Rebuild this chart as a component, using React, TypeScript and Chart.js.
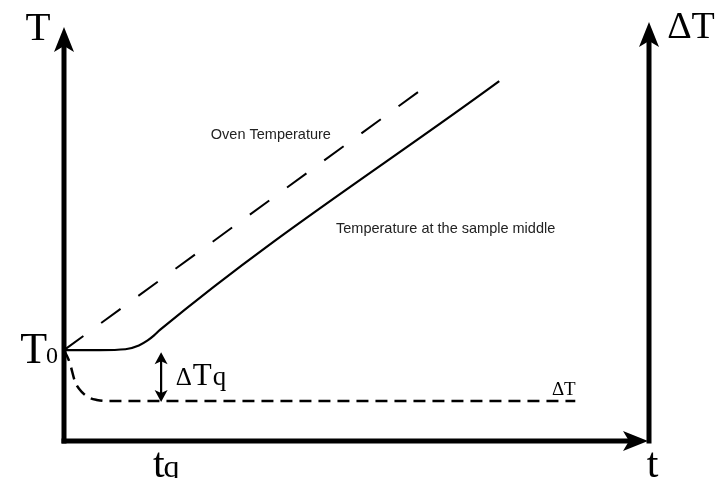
import React, { useEffect, useRef } from "react";
import { Chart, registerables } from "chart.js";

Chart.register(...registerables);

// Scales: time 0..100 (left axis -> right axis), temperature 0..100 (bottom axis -> top)
const X_MIN = 0;
const X_MAX = 100;
const Y_MIN = 0;
const Y_MAX = 100;

// Oven temperature (dashed straight line)
const ovenTime = [0, 62.6];
const ovenTemp = [21.7, 85.4];

// Temperature at the sample middle (solid)
const sampleTime = [0, 6.1, 10.5, 12.8, 14.3, 15.4, 16.4, 74.4];
const sampleTemp = [21.7, 21.7, 21.9, 22.8, 24.0, 25.2, 26.5, 85.9];

// Delta T (dashed, lower)
const deltaTime = [0, 0.5, 1.0, 1.9, 3.2, 4.4, 5.6, 7.0, 87.4];
const deltaTemp = [21.7, 20.3, 18.6, 14.1, 11.5, 10.3, 9.8, 9.55, 9.55];

// Markers
const T0 = 21.7;
const tq = 16.6;
const deltaTqRange = [21.2, 9.3];

const toPoints = (xs: number[], ys: number[]) => xs.map((x, i) => ({ x, y: ys[i] }));

const SERIF = "'Liberation Serif', 'DejaVu Serif', serif";
const SANS = "'Liberation Sans', Arial, sans-serif";

function arrowHead(
  ctx: CanvasRenderingContext2D,
  tx: number,
  ty: number,
  dx: number,
  dy: number,
  len: number,
  half: number,
  notch: number
) {
  const px = -dy;
  const py = dx;
  const bx = tx - dx * len;
  const by = ty - dy * len;
  ctx.beginPath();
  ctx.moveTo(tx, ty);
  ctx.lineTo(bx + px * half, by + py * half);
  ctx.lineTo(tx - dx * (len - notch), ty - dy * (len - notch));
  ctx.lineTo(bx - px * half, by - py * half);
  ctx.closePath();
  ctx.fill();
}

const decorPlugin = {
  id: "decor",
  afterDatasetsDraw(chart: any) {
    const ctx: CanvasRenderingContext2D = chart.ctx;
    const xs = chart.scales.x;
    const ys = chart.scales.y;
    const X = (v: number) => xs.getPixelForValue(v);
    const Y = (v: number) => ys.getPixelForValue(v);
    ctx.save();
    ctx.fillStyle = "#000";
    ctx.strokeStyle = "#000";
    ctx.lineCap = "butt";

    // Axes
    const x0 = X(X_MIN);
    const x1 = X(X_MAX);
    const y0 = Y(Y_MIN);
    ctx.lineWidth = 5;
    const leftTip = Y(98.8);
    ctx.beginPath();
    ctx.moveTo(x0, y0 + 2.5);
    ctx.lineTo(x0, leftTip + 12);
    ctx.stroke();
    arrowHead(ctx, x0, leftTip, 0, -1, 25, 10, 6);
    const rightTip = Y(Y_MAX);
    ctx.beginPath();
    ctx.moveTo(x1, y0 + 2.5);
    ctx.lineTo(x1, rightTip + 12);
    ctx.stroke();
    arrowHead(ctx, x1, rightTip, 0, -1, 25, 10, 6);
    ctx.beginPath();
    ctx.moveTo(x0 - 2.5, y0);
    ctx.lineTo(x1 - 12, y0);
    ctx.stroke();
    arrowHead(ctx, x1 - 1, y0, 1, 0, 25, 10, 6);

    // Delta Tq double arrow
    const ax = X(tq);
    const aTop = Y(deltaTqRange[0]);
    const aBot = Y(deltaTqRange[1]);
    ctx.lineWidth = 2.2;
    ctx.beginPath();
    ctx.moveTo(ax, aTop + 6);
    ctx.lineTo(ax, aBot - 6);
    ctx.stroke();
    arrowHead(ctx, ax, aTop, 0, -1, 12, 6.5, 3);
    arrowHead(ctx, ax, aBot, 0, 1, 12, 6.5, 3);

    // Texts
    ctx.textBaseline = "alphabetic";
    ctx.textAlign = "left";
    const put = (s: string, px: number, py: number, font: string) => {
      ctx.font = font;
      ctx.fillText(s, px, py);
      return px + ctx.measureText(s).width;
    };

    put("T", X(-6.6), Y(95.7), `41px ${SERIF}`);
    put("ΔT", X(103.1), Y(96.2), `38px ${SERIF}`);
    let nx = put("T", X(-7.5), Y(T0 - 3.1), `44px ${SERIF}`);
    put("0", nx - 1, Y(T0 - 3.1), `24px ${SERIF}`);
    nx = put("Δ", X(19.1), Y(13.4), `25px ${SERIF}`);
    nx = put("T", nx + 1, Y(13.4), `31px ${SERIF}`);
    put("q", nx + 1, Y(13.4), `27px ${SERIF}`);
    nx = put("t", X(15.2), Y(-8.6), `42px ${SERIF}`);
    put("q", nx - 1, Y(-8.6), `32px ${SERIF}`);
    put("t", X(99.6), Y(-8.6), `42px ${SERIF}`);
    put("ΔT", X(83.4), Y(11.0), `19px ${SERIF}`);

    ctx.fillStyle = "#222";
    put("Oven Temperature", X(25.1), Y(72.1), `14.5px ${SANS}`);
    put("Temperature at the sample middle", X(46.5), Y(49.6), `14.5px ${SANS}`);

    ctx.restore();
  },
};

export default function App() {
  const ref = useRef<HTMLCanvasElement | null>(null);

  useEffect(() => {
    if (!ref.current) return;
    const chart = new Chart(ref.current, {
      type: "line",
      data: {
        datasets: [
          {
            label: "Oven Temperature",
            data: toPoints(ovenTime, ovenTemp),
            borderColor: "#000",
            borderWidth: 2,
            borderDash: [24, 22],
            pointRadius: 0,
            fill: false,
          },
          {
            label: "Temperature at the sample middle",
            data: toPoints(sampleTime, sampleTemp),
            borderColor: "#000",
            borderWidth: 2.2,
            pointRadius: 0,
            cubicInterpolationMode: "monotone",
            fill: false,
          },
          {
            label: "ΔT",
            data: toPoints(deltaTime, deltaTemp),
            borderColor: "#000",
            borderWidth: 2.5,
            borderDash: [12, 7],
            pointRadius: 0,
            cubicInterpolationMode: "monotone",
            fill: false,
          },
        ],
      },
      options: {
        animation: false,
        responsive: false,
        maintainAspectRatio: false,
        events: [],
        layout: { padding: { left: 64, right: 69, top: 22, bottom: 37 } },
        plugins: { legend: { display: false }, tooltip: { enabled: false }, title: { display: false } },
        scales: {
          x: { type: "linear", min: X_MIN, max: X_MAX, display: false },
          y: { type: "linear", min: Y_MIN, max: Y_MAX, display: false },
        },
      },
      plugins: [decorPlugin],
    } as any);
    return () => chart.destroy();
  }, []);

  return (
    <div style={{ position: "fixed", left: 0, top: 0, width: 718, height: 478, background: "#fff" }}>
      <canvas ref={ref} width={718} height={478} style={{ display: "block" }} />
    </div>
  );
}
